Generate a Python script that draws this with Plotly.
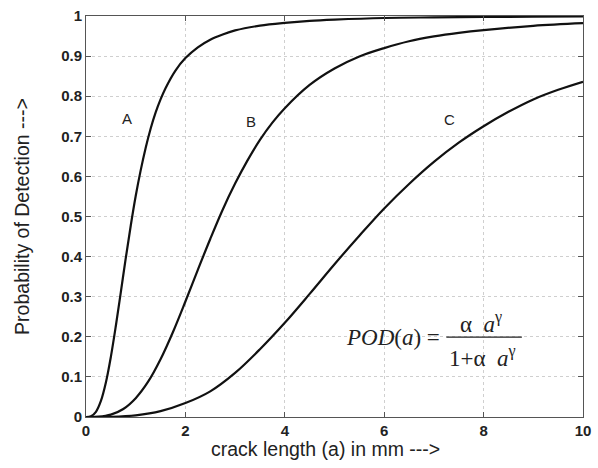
import plotly.graph_objects as go

# ---- data ----
a_A = [0, 0.1, 0.2, 0.3, 0.4, 0.5, 0.6, 0.7, 0.8, 0.9, 1.0, 1.1, 1.2, 1.3, 1.4, 1.5, 1.6,
       1.8, 2.0, 2.25, 2.5, 2.75, 3.0, 3.5, 4.0, 4.5, 5.0, 6.0, 7.0, 8.0, 9.0, 10.0]
pod_A = [0, 0.002, 0.013, 0.040, 0.086, 0.150, 0.227, 0.311, 0.396, 0.477, 0.551, 0.615, 0.671,
         0.719, 0.759, 0.792, 0.820, 0.864, 0.895, 0.922, 0.941, 0.954, 0.964, 0.976, 0.983,
         0.988, 0.991, 0.995, 0.9965, 0.9976, 0.9983, 0.9987]

a_B = [0, 0.25, 0.5, 0.75, 1.0, 1.25, 1.5, 1.75, 2.0, 2.25, 2.5, 2.75, 3.0, 3.25, 3.5, 3.75,
       4.0, 4.5, 5.0, 5.5, 6.0, 6.5, 7.0, 7.5, 8.0, 9.0, 10.0]
pod_B = [0, 0.0007, 0.0059, 0.020, 0.047, 0.088, 0.144, 0.212, 0.288, 0.367, 0.444, 0.517,
         0.582, 0.640, 0.691, 0.734, 0.770, 0.828, 0.869, 0.899, 0.920, 0.937, 0.949, 0.958,
         0.965, 0.9755, 0.982]

a_C = [0, 0.5, 1.0, 1.5, 2.0, 2.5, 3.0, 3.5, 4.0, 4.5, 5.0, 5.5, 6.0, 6.5, 7.0, 7.5, 8.0,
       8.5, 9.0, 9.5, 10.0]
pod_C = [0, 0.0005, 0.0042, 0.0145, 0.0347, 0.064, 0.110, 0.169, 0.235, 0.307, 0.381, 0.452,
         0.520, 0.581, 0.636, 0.684, 0.725, 0.761, 0.792, 0.816, 0.836]

curve_labels = ["A", "B", "C"]
label_x = [0.83, 3.31, 7.31]
label_y = [0.744, 0.737, 0.742]

x_ticks = [0, 2, 4, 6, 8, 10]
y_ticks = [0, 0.1, 0.2, 0.3, 0.4, 0.5, 0.6, 0.7, 0.8, 0.9, 1]
y_tick_text = ["0", "0.1", "0.2", "0.3", "0.4", "0.5", "0.6", "0.7", "0.8", "0.9", "1"]

x_title = "crack length (a) in mm --->"
y_title = "Probability of Detection --->"

fig = go.Figure()
for xs, ys in [(a_A, pod_A), (a_B, pod_B), (a_C, pod_C)]:
    fig.add_trace(go.Scatter(x=xs, y=ys, mode="lines",
                             line=dict(color="#111111", width=2.2, shape="spline", smoothing=1.0),
                             showlegend=False, hoverinfo="skip"))

for t, x, y in zip(curve_labels, label_x, label_y):
    fig.add_annotation(x=x, y=y, xref="x", yref="y", text=t, showarrow=False,
                       font=dict(family="Liberation Sans, Arial", size=15, color="#222222"))

# formula  POD(a) = α a^γ / (1 + α a^γ)
serif = "Liberation Serif, Times New Roman"
fig.add_annotation(x=7.17, y=0.199, xref="x", yref="y", xanchor="right", yanchor="middle",
                   text="<i>POD</i>(<i>a</i>) =", showarrow=False,
                   font=dict(family=serif, size=23, color="#222222"))
fig.add_annotation(x=7.95, y=0.235, xref="x", yref="y", xanchor="center", yanchor="middle",
                   text="α  <i>a</i><sup>γ</sup>", showarrow=False,
                   font=dict(family=serif, size=23, color="#222222"))
fig.add_annotation(x=7.98, y=0.150, xref="x", yref="y", xanchor="center", yanchor="middle",
                   text="1+α  <i>a</i><sup>γ</sup>", showarrow=False,
                   font=dict(family=serif, size=23, color="#222222"))
fig.add_shape(type="line", xref="x", yref="y", x0=7.25, x1=8.77, y0=0.199, y1=0.199,
              line=dict(color="#222222", width=1.3))

# x axis title (placed slightly left of centre, as in the reference)
fig.add_annotation(x=0.481, y=0, xref="paper", yref="paper", xanchor="center", yanchor="middle",
                   yshift=-32, text=x_title, showarrow=False,
                   font=dict(family="Liberation Sans, Arial", size=19.5, color="#222222"))

axis_common = dict(showline=True, linecolor="#555555", linewidth=1, mirror="ticks",
                   ticks="inside", ticklen=5, tickcolor="#555555",
                   showgrid=True, gridcolor="#cfcfcf", griddash="dot", gridwidth=1,
                   zeroline=False, ticklabeloverflow="allow",
                   tickfont=dict(family="Liberation Sans, Arial", size=15, color="#222222",
                                 weight="bold"))

fig.update_xaxes(range=[0, 10], tickvals=x_ticks, ticktext=[str(v) for v in x_ticks],
                 **axis_common)
fig.update_yaxes(range=[0, 1], tickvals=y_ticks, ticktext=y_tick_text,
                 title=dict(text=y_title, standoff=26,
                            font=dict(family="Liberation Sans, Arial", size=19.5, color="#222222")),
                 **axis_common)

fig.update_layout(width=598, height=468, margin=dict(l=86, r=7, t=14, b=51),
                  plot_bgcolor="white", paper_bgcolor="white")

fig.write_html("out.html")
